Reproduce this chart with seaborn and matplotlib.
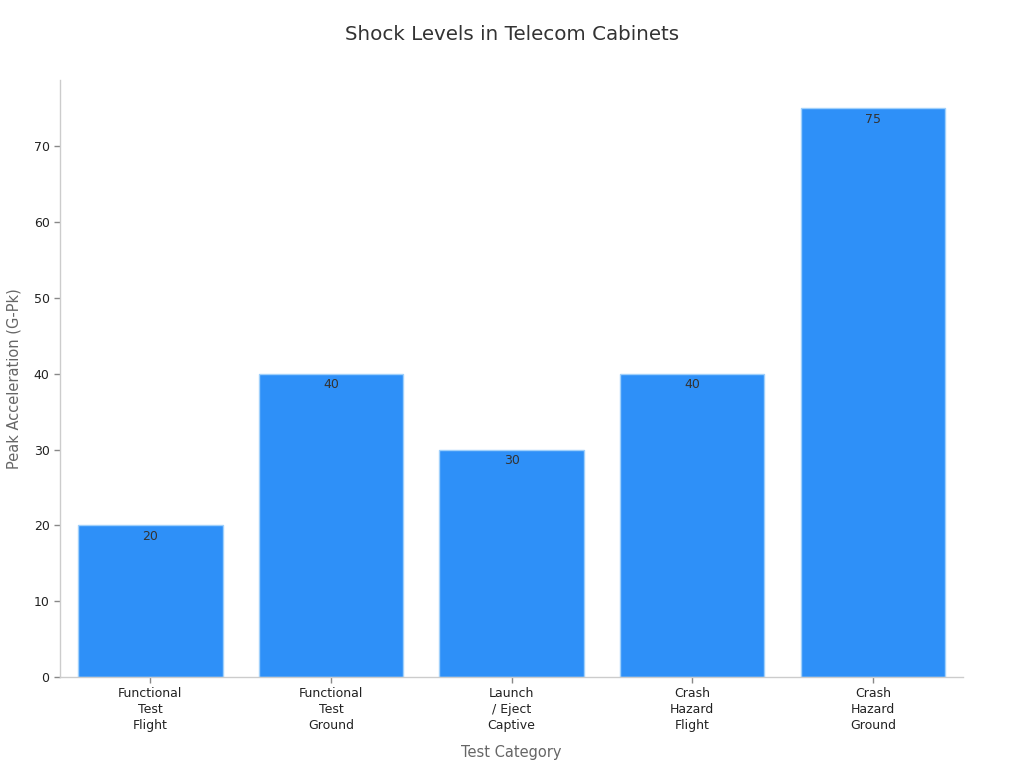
import matplotlib
matplotlib.use("Agg")
import matplotlib.pyplot as plt
import seaborn as sns
import pandas as pd

categories = ["Functional\nTest\nFlight", "Functional\nTest\nGround", "Launch\n/ Eject\nCaptive",
              "Crash\nHazard\nFlight", "Crash\nHazard\nGround"]
values = [20, 40, 30, 40, 75]

sns.set_theme(style="white")
plt.rcParams['font.family'] = ['DejaVu Sans']

df = pd.DataFrame({"cat": categories, "val": values})
fig = plt.figure(figsize=(10.24, 7.68), dpi=100)
ax = fig.add_axes([0.0586, 0.1185, 0.882, 0.7773])
sns.barplot(data=df, x="cat", y="val", color="#2E90F8", saturation=1, width=0.8,
            edgecolor="#9fd0fb", linewidth=1, ax=ax)
ax.set_xlim(-0.5, 4.5)
ax.set_ylim(0, 78.75)
for i, v in enumerate(values):
    ax.text(i, v - 0.6, f"{v}", ha="center", va="top", fontsize=9, color="#333333")
ax.set_yticks([0, 10, 20, 30, 40, 50, 60, 70])
ax.tick_params(axis="both", labelsize=9, colors="#222222", length=4, width=1, left=True, bottom=True)
ax.tick_params(axis="both", color="#888888")
for lbl in ax.get_xticklabels():
    lbl.set_linespacing(1.3)
ax.set_xlabel("Test Category", fontsize=10.5, color="#666666", labelpad=9)
ax.set_ylabel("Peak Acceleration (G-Pk)", fontsize=10.5, color="#666666", labelpad=9)
for s in ["top", "right"]:
    ax.spines[s].set_visible(False)
for s in ["left", "bottom"]:
    ax.spines[s].set_color("#cccccc")
    ax.spines[s].set_linewidth(1)
fig.suptitle("Shock Levels in Telecom Cabinets", fontsize=14.3, color="#333333", y=0.968)
fig.savefig("out.png", dpi=100)
